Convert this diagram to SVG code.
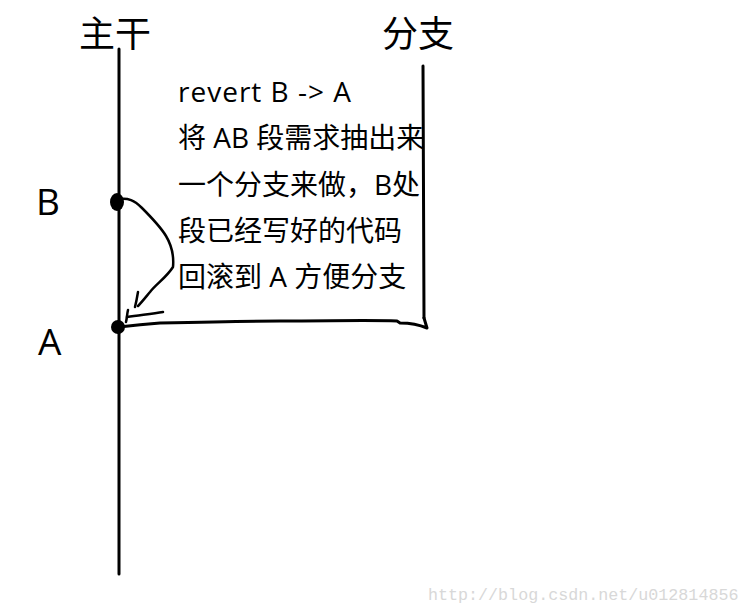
<svg xmlns="http://www.w3.org/2000/svg" width="750" height="613" viewBox="0 0 750 613">
<style>
.ink{fill:none;stroke:#000;stroke-width:3;stroke-linecap:round;stroke-linejoin:round}
.thin{fill:none;stroke:#000;stroke-width:2.5;stroke-linecap:round;stroke-linejoin:round}
.hd{font-family:"Noto Sans CJK SC","Liberation Sans",sans-serif;font-size:36px;fill:#000}
.lb{font-family:"Open Sans","Liberation Sans",sans-serif;font-size:37px;fill:#000}
.tx{font-family:"Open Sans","Noto Sans CJK SC",sans-serif;font-size:28px;fill:#000}
.wm{font-family:"Liberation Mono","DejaVu Sans Mono",monospace;font-size:16.7px;fill:#d8d8d8}
</style>
<rect width="750" height="613" fill="#fff"/>
<g id="trunk">
<line class="ink" x1="119" y1="49" x2="119" y2="574"/>
<text class="hd" x="79" y="47">主干</text>
</g>
<g id="branch">
<line class="ink" x1="423" y1="66" x2="424" y2="318"/>
<text class="hd" x="382" y="47">分支</text>
</g>
<g id="pointB">
<ellipse cx="117" cy="202" rx="7" ry="9" fill="#000"/>
<text class="lb" x="36" y="215">B</text>
</g>
<g id="pointA">
<ellipse cx="118" cy="327" rx="7" ry="7" fill="#000"/>
<text class="lb" x="38" y="355">A</text>
</g>
<g id="connectors">
<path class="ink" d="M119,327 C135,325 145,324 160,323 C200,322 240,321 280,321 C330,321 370,320 397,321 L400,323 C410,323 420,325 427,328 L424,318"/>
<path class="thin" d="M120,199 C128,198 134,200 142,208 C150,216 160,226 166,236 C172,246 174,256 173,267 C166,278 156,284 150,292 C145,298 141,303 138,306"/>
<path class="thin" d="M138,292 C137,298 136,303 135,307"/>
<path class="thin" d="M128,310 C127,314 127,318 126,322"/>
<path class="thin" d="M127,317 C140,315 152,314 163,312"/>
</g>
<g id="note">
<text class="tx" x="178" y="102" letter-spacing="1">revert B -&gt; A</text>
<text class="tx" x="178" y="148">将 AB 段需求抽出来</text>
<text class="tx" x="178" y="195">一个分支来做，B处</text>
<text class="tx" x="178" y="241">段已经写好的代码</text>
<text class="tx" x="178" y="287">回滚到 A 方便分支</text>
</g>
<text class="wm" x="428" y="600">http://blog.csdn.net/u012814856</text>
</svg>
